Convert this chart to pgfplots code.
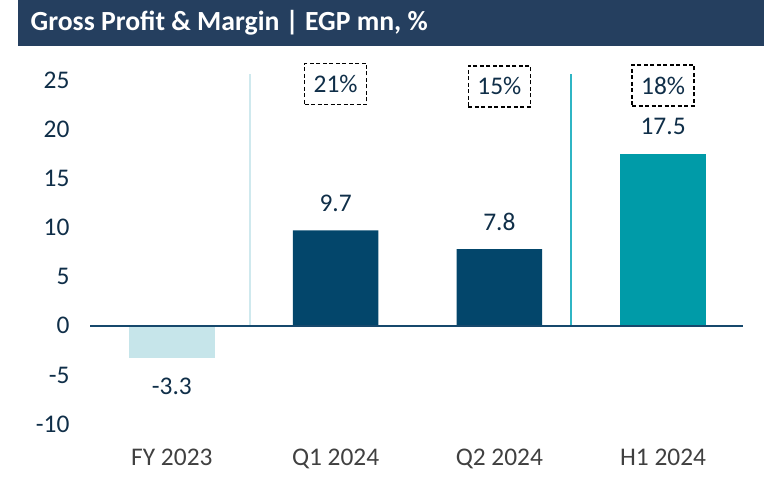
\documentclass[border=0pt]{standalone}
\usepackage{pgfplots}
\pgfplotsset{compat=1.18}
\usepackage{fontspec}
\setmainfont{Carlito}
\definecolor{titlebg}{HTML}{253F5F}
\definecolor{navybar}{HTML}{03466B}
\definecolor{tealbar}{HTML}{009BA8}
\definecolor{lightbar}{HTML}{C6E5EA}
\definecolor{seplineA}{HTML}{CFE9EE}
\definecolor{seplineB}{HTML}{2FB5C4}
\definecolor{zeroline}{HTML}{16486C}
\definecolor{ticktxt}{HTML}{0F2E48}
\definecolor{xtxt}{HTML}{404040}
\newcommand{\bigf}{\fontsize{25.5}{29}\selectfont}
\begin{document}
\begin{tikzpicture}
\useasboundingbox (0,0) rectangle (764bp,477bp);
\fill[titlebg] (18bp,431bp) rectangle (764bp,477bp);
\node[anchor=base west, text=white, inner sep=0pt, font=\fontsize{27.8}{32}\selectfont\bfseries] at (30.5bp,446.5bp) {Gross Profit \& Margin | EGP mn, \%};
\begin{axis}[
  at={(90bp,43bp)}, anchor=south west,
  scale only axis, width=655bp, height=363.8bp,
  xmin=-0.5, xmax=3.5, ymin=-11, ymax=26,
  ybar, bar width=85.6bp, bar shift=0pt,
  axis line style={draw=none},
  major tick length=0pt,
  xtick={0,1,2,3},
  xticklabels={FY 2023, Q1 2024, Q2 2024, H1 2024},
  ytick={-10,-5,0,5,10,15,20,25},
  /pgf/number format/assume math mode=true,
  ticklabel style={font=\bigf},
  yticklabel style={text=ticktxt, xshift=-17bp},
  xticklabel style={text=xtxt, yshift=-11bp},
  clip=false,
]
\addplot[sharp plot, no marks, draw=seplineA, line width=2bp, forget plot] coordinates {(0.48,0) (0.48,25.6)};
\addplot[sharp plot, no marks, draw=seplineB, line width=2bp, forget plot] coordinates {(2.44,0) (2.44,25.6)};
\addplot[fill=lightbar, draw=none, nodes near coords, point meta=explicit symbolic,
  nodes near coords style={anchor=center, yshift=-28bp, font=\bigf, text=ticktxt}]
  coordinates {(0,-3.3) [-3.3]};
\addplot[fill=navybar, draw=none, nodes near coords, point meta=explicit symbolic,
  nodes near coords style={anchor=center, yshift=27bp, font=\bigf, text=ticktxt}]
  coordinates {(1,9.7) [9.7] (2,7.8) [7.8]};
\addplot[fill=tealbar, draw=none, nodes near coords, point meta=explicit symbolic,
  nodes near coords style={anchor=center, yshift=27bp, font=\bigf, text=ticktxt}]
  coordinates {(3,17.5) [17.5]};
\addplot[sharp plot, no marks, draw=zeroline, line width=1.8bp, forget plot] coordinates {(-0.5,0) (3.49,0)};
\tikzset{pctbox/.style={draw=black, dash pattern=on 4bp off 2.5bp, line width=1.5bp, minimum width=62bp, minimum height=41bp, inner sep=0pt, text=ticktxt, font=\bigf}}
\node[pctbox] at (axis cs:1,24.6) {21\%};
\node[pctbox] at (axis cs:2,24.35) {15\%};
\node[pctbox] at (axis cs:3,24.45) {18\%};
\end{axis}
\end{tikzpicture}
\end{document}
